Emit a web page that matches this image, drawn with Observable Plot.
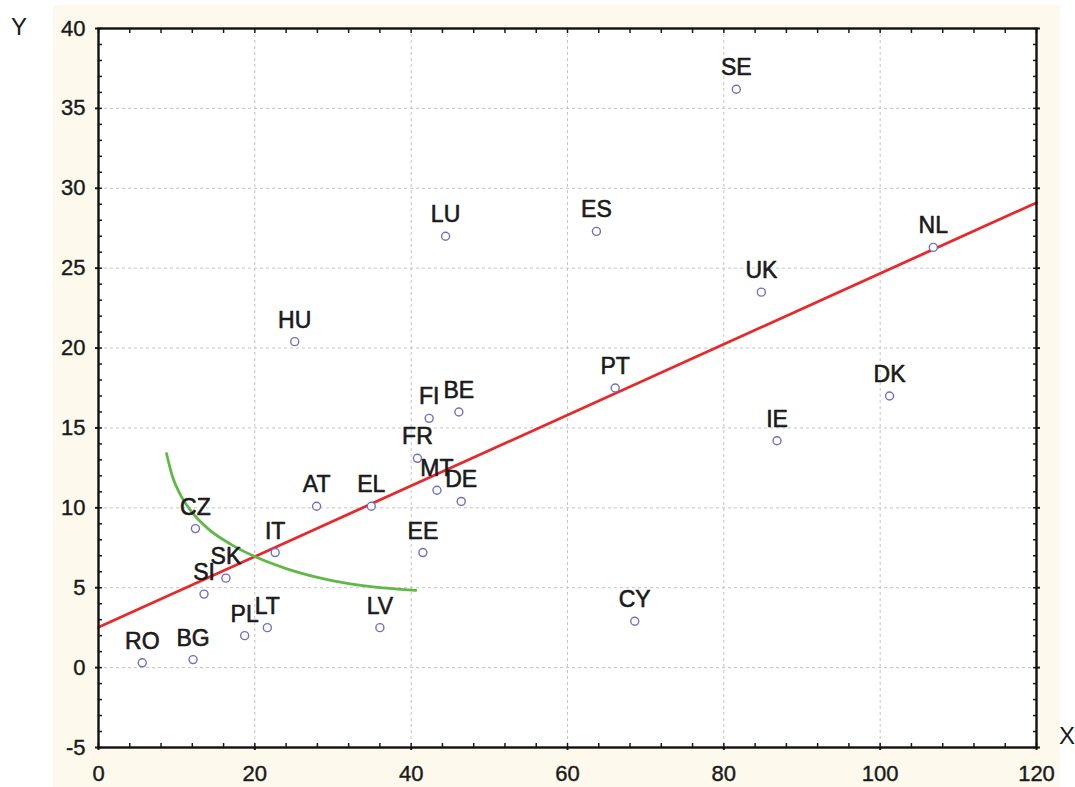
<!DOCTYPE html>
<html>
<head>
<meta charset="utf-8">
<script src="https://cdn.jsdelivr.net/npm/d3@7"></script>
<script src="https://cdn.jsdelivr.net/npm/@observablehq/plot@0.6"></script>
<style>
  html, body { margin: 0; padding: 0; background: #ffffff; }
  #wrap { position: relative; width: 1075px; height: 787px; overflow: hidden; font-family: "Liberation Sans", Arial, sans-serif; }
  #cream { position: absolute; left: 53px; top: 5px; width: 1007px; height: 782px; background: #fdf9ec; }
  #chart { position: absolute; left: 0; top: 0; }
  .axlab { position: absolute; font-size: 24px; color: #1a1a1a; line-height: 1; }
</style>
</head>
<body>
<div id="wrap">
  <div id="cream"></div>
  <div id="chart"></div>
  <div class="axlab" style="left:11px; top:15px;">Y</div>
  <div class="axlab" style="left:1059px; top:724px;">X</div>
</div>
<script>
// Country codes and their values
const countries = ["RO","BG","PL","LT","LV","SI","SK","CZ","IT","AT","EL","EE","FR","MT","DE","FI","BE","HU","LU","ES","PT","CY","SE","UK","IE","DK","NL"];
const xValues  = [5.6, 12.1, 18.7, 21.6, 36.0, 13.5, 16.3, 12.4, 22.6, 27.9, 34.9, 41.5, 40.8, 43.3, 46.4, 42.3, 46.1, 25.1, 44.4, 63.7, 66.1, 68.6, 81.6, 84.8, 86.8, 101.2, 106.8];
const yValues  = [0.3, 0.5, 2.0, 2.5, 2.5, 4.6, 5.6, 8.7, 7.2, 10.1, 10.1, 7.2, 13.1, 11.1, 10.4, 15.6, 16.0, 20.4, 27.0, 27.3, 17.5, 2.9, 36.2, 23.5, 14.2, 17.0, 26.3];

// Red fitted line (end points)
const lineX = [0, 120];
const lineY = [2.52, 29.1];

// Green curve
const curveX = [8.7, 9.5, 10.5, 12.0, 14.0, 17.0, 20.0, 24.0, 28.0, 32.0, 36.0, 40.6];
const curveY = [13.4, 11.9, 10.8, 9.7, 8.7, 7.7, 6.95, 6.2, 5.65, 5.25, 5.0, 4.84];

// Tick values
const xMajor = [0, 20, 40, 60, 80, 100, 120];
const yMajor = [-5, 0, 5, 10, 15, 20, 25, 30, 35, 40];
const xMinor = d3.range(0, 121, 4);
const yMinor = d3.range(-5, 41, 1);

const points = countries.map((c, i) => ({c, x: xValues[i], y: yValues[i]}));
const fit = lineX.map((x, i) => ({x, y: lineY[i]}));
const curve = curveX.map((x, i) => ({x, y: curveY[i]}));

const ink = "#1a1a1a";
const gridOpts = {stroke: "#c4c4c4", strokeOpacity: 1, strokeDasharray: "3,3", strokeWidth: 1};
const fmt = d => String(d);

const chart = Plot.plot({
  width: 1075,
  height: 787,
  marginLeft: 98,
  marginRight: 39,
  marginTop: 28,
  marginBottom: 40,
  style: {background: "transparent", fontFamily: "'Liberation Sans', Arial, sans-serif", color: ink},
  x: {domain: [0, 120]},
  y: {domain: [-5, 40]},
  marks: [
    Plot.frame({fill: "white", stroke: null}),
    Plot.gridX(xMajor.filter(v => v > 0 && v < 120), gridOpts),
    Plot.gridY(yMajor.filter(v => v > -5 && v < 40), gridOpts),
    // tick labels
    Plot.axisX(xMajor, {anchor: "bottom", tickSize: 0, tickPadding: 18, fontSize: 22, label: null, fill: ink, tickFormat: fmt, textStroke: ink, textStrokeWidth: 0.4}),
    Plot.axisY(yMajor, {anchor: "left", tickSize: 0, tickPadding: 13, fontSize: 22, label: null, fill: ink, tickFormat: fmt, textStroke: ink, textStrokeWidth: 0.4}),
    // inward minor ticks
    Plot.axisX(xMinor, {anchor: "bottom", tickSize: 4, dy: -4, fill: "none", label: null, stroke: ink, strokeWidth: 1.5}),
    Plot.axisX(xMinor, {anchor: "top", tickSize: 4, dy: 4, fill: "none", label: null, stroke: ink, strokeWidth: 1.5}),
    Plot.axisY(yMinor, {anchor: "left", tickSize: 4, dx: 4, fill: "none", label: null, stroke: ink, strokeWidth: 1.5}),
    Plot.axisY(yMinor, {anchor: "right", tickSize: 4, dx: -4, fill: "none", label: null, stroke: ink, strokeWidth: 1.5}),
    // major ticks slightly outward
    Plot.axisX(xMajor, {anchor: "bottom", tickSize: 3, fill: "none", label: null, stroke: ink, strokeWidth: 2}),
    Plot.axisY(yMajor, {anchor: "left", tickSize: 3, fill: "none", label: null, stroke: ink, strokeWidth: 2}),
    Plot.axisY(yMajor, {anchor: "right", tickSize: 3, fill: "none", label: null, stroke: ink, strokeWidth: 2}),
    Plot.line(fit, {x: "x", y: "y", stroke: "#e8282a", strokeWidth: 2.8}),
    Plot.line(curve, {x: "x", y: "y", stroke: "#62b846", strokeWidth: 2.8, curve: "monotone-x"}),
    Plot.dot(points, {x: "x", y: "y", r: 4, stroke: "#6f6fc6", strokeWidth: 1.4, fill: "white"}),
    Plot.text(points, {x: "x", y: "y", text: "c", dy: -14, lineAnchor: "bottom", fontSize: 23, fill: ink, stroke: ink, strokeWidth: 0.6}),
    Plot.frame({stroke: "#111", strokeWidth: 2.4})
  ]
});
document.getElementById("chart").appendChild(chart);
</script>
</body>
</html>
